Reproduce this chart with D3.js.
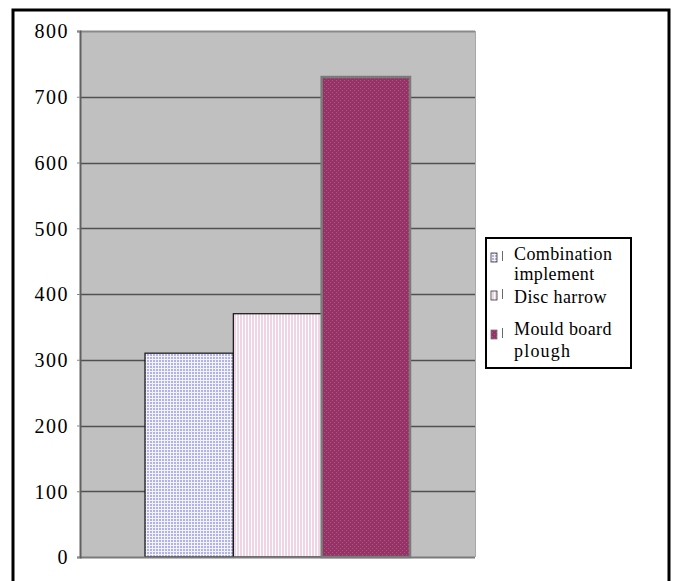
<!DOCTYPE html>
<html>
<head>
<meta charset="utf-8">
<script src="https://cdn.jsdelivr.net/npm/d3@7"></script>
<style>
  body { margin: 0; background: #fff; }
</style>
</head>
<body>
<div id="chart"></div>
<script>
// data
var categories = ["Combination implement", "Disc harrow", "Mould board plough"];
var values = [310, 370, 730];
var legendLines = [["Combination", "implement"], ["Disc harrow"], ["Mould board", "plough"]];
var yTicks = [0, 100, 200, 300, 400, 500, 600, 700, 800];

var svgWidth = 674;
var svgHeight = 581;

var plot = { left: 80, top: 31, right: 475, bottom: 557 };

var svg = d3.select("#chart")
  .append("svg")
  .attr("width", svgWidth)
  .attr("height", svgHeight);

var defs = svg.append("defs");

// grid pattern for first bar
var p1 = defs.append("pattern")
  .attr("id", "pat0").attr("patternUnits", "userSpaceOnUse")
  .attr("width", 3).attr("height", 3);
p1.append("rect").attr("width", 3).attr("height", 3).attr("fill", "#f4f4ff");
p1.append("rect").attr("width", 2).attr("height", 2).attr("fill", "#b2b2ea");

// vertical stripes for second bar
var p2 = defs.append("pattern")
  .attr("id", "pat1").attr("patternUnits", "userSpaceOnUse")
  .attr("width", 3).attr("height", 3);
p2.append("rect").attr("width", 3).attr("height", 3).attr("fill", "#ffffff");
p2.append("rect").attr("width", 2).attr("height", 3).attr("fill", "#f0d4e6");

// dotted magenta for third bar
var p3 = defs.append("pattern")
  .attr("id", "pat2").attr("patternUnits", "userSpaceOnUse")
  .attr("width", 4).attr("height", 4);
p3.append("rect").attr("width", 4).attr("height", 4).attr("fill", "#953366");
p3.append("rect").attr("x", 0).attr("y", 0).attr("width", 1).attr("height", 1).attr("fill", "#b05585");
p3.append("rect").attr("x", 2).attr("y", 2).attr("width", 1).attr("height", 1).attr("fill", "#b05585");

var fills = ["url(#pat0)", "url(#pat1)", "url(#pat2)"];

// outer frame
svg.append("rect")
  .attr("x", 13).attr("y", 10)
  .attr("width", 656).attr("height", 600)
  .attr("fill", "none")
  .attr("stroke", "#000")
  .attr("stroke-width", 3);

var y = d3.scaleLinear()
  .domain([0, 800])
  .range([plot.bottom, plot.top]);

var x = d3.scaleBand()
  .domain(categories)
  .range([145, 410])
  .paddingInner(0)
  .paddingOuter(0);

// plot background
svg.append("rect")
  .attr("x", plot.left).attr("y", plot.top)
  .attr("width", plot.right - plot.left)
  .attr("height", plot.bottom - plot.top)
  .attr("fill", "#c0c0c0");

// right edge highlight
svg.append("line")
  .attr("x1", plot.right + 0.5).attr("x2", plot.right + 0.5)
  .attr("y1", plot.top).attr("y2", plot.bottom)
  .attr("stroke", "#a8a8a8").attr("stroke-width", 1);

// gridlines
svg.append("g")
  .selectAll("line")
  .data(yTicks.filter(d => d > 0))
  .enter()
  .append("line")
  .attr("x1", plot.left)
  .attr("x2", plot.right)
  .attr("y1", d => Math.round(y(d)) + 0.5)
  .attr("y2", d => Math.round(y(d)) + 0.5)
  .attr("stroke", d => d === 800 ? "#8a8a8a" : "#505050")
  .attr("stroke-width", d => d === 800 ? 2 : 1.3);

// bars
svg.append("g")
  .selectAll("rect")
  .data(values)
  .enter()
  .append("rect")
  .attr("x", (d, i) => x(categories[i]))
  .attr("y", d => y(d))
  .attr("width", x.bandwidth())
  .attr("height", d => plot.bottom - y(d))
  .attr("fill", (d, i) => fills[i])
  .attr("stroke", (d, i) => i === 2 ? "#7a7a7a" : "#111")
  .attr("stroke-width", (d, i) => i === 2 ? 2.5 : 1.2);

// bottom axis line
svg.append("line")
  .attr("x1", plot.left).attr("x2", plot.right)
  .attr("y1", plot.bottom + 0.5).attr("y2", plot.bottom + 0.5)
  .attr("stroke", "#7a7a7a").attr("stroke-width", 2);

// left axis
var leftAxis = d3.axisLeft(y)
  .tickValues(yTicks)
  .tickSize(3)
  .tickPadding(8)
  .tickFormat(d3.format("d"));

var yAxis = svg.append("g")
  .attr("transform", `translate(${plot.left}, 0)`)
  .call(leftAxis);
yAxis.select(".domain").attr("stroke", "#606060").attr("stroke-width", 2);
yAxis.selectAll(".tick line").attr("stroke", "#888");
yAxis.selectAll(".tick text")
  .attr("font-family", "'Liberation Serif', 'Times New Roman', serif")
  .attr("font-size", 20)
  .attr("letter-spacing", 1.5)
  .attr("dy", "0.34em")
  .attr("fill", "#000");

// legend
var legend = svg.append("g");
legend.append("rect")
  .attr("x", 486).attr("y", 238)
  .attr("width", 145).attr("height", 130)
  .attr("fill", "#fff")
  .attr("stroke", "#000")
  .attr("stroke-width", 2);

var rowY = [260, 303, 335];
var lineGap = [19.5, 0, 22];
var swatchY = [253, 291, 330];
legendLines.forEach(function(lines, i) {
  legend.append("rect")
    .attr("x", 491).attr("y", swatchY[i])
    .attr("width", 6).attr("height", 9)
    .attr("fill", fills[i])
    .attr("stroke", i === 2 ? "#777" : "#333")
    .attr("stroke-width", 0.8);
  legend.append("line")
    .attr("x1", 502.5).attr("x2", 502.5)
    .attr("y1", swatchY[i] - 2).attr("y2", swatchY[i] + 8)
    .attr("stroke", "#444").attr("stroke-width", 0.8);
  lines.forEach(function(t, j) {
    legend.append("text")
      .attr("x", 514)
      .attr("y", rowY[i] + j * lineGap[i])
      .attr("font-family", "'Liberation Serif', 'Times New Roman', serif")
      .attr("font-size", 18)
      .attr("letter-spacing", t === "plough" ? 1.2 : 0.4)
      .attr("fill", "#000")
      .text(t);
  });
});
</script>
</body>
</html>
